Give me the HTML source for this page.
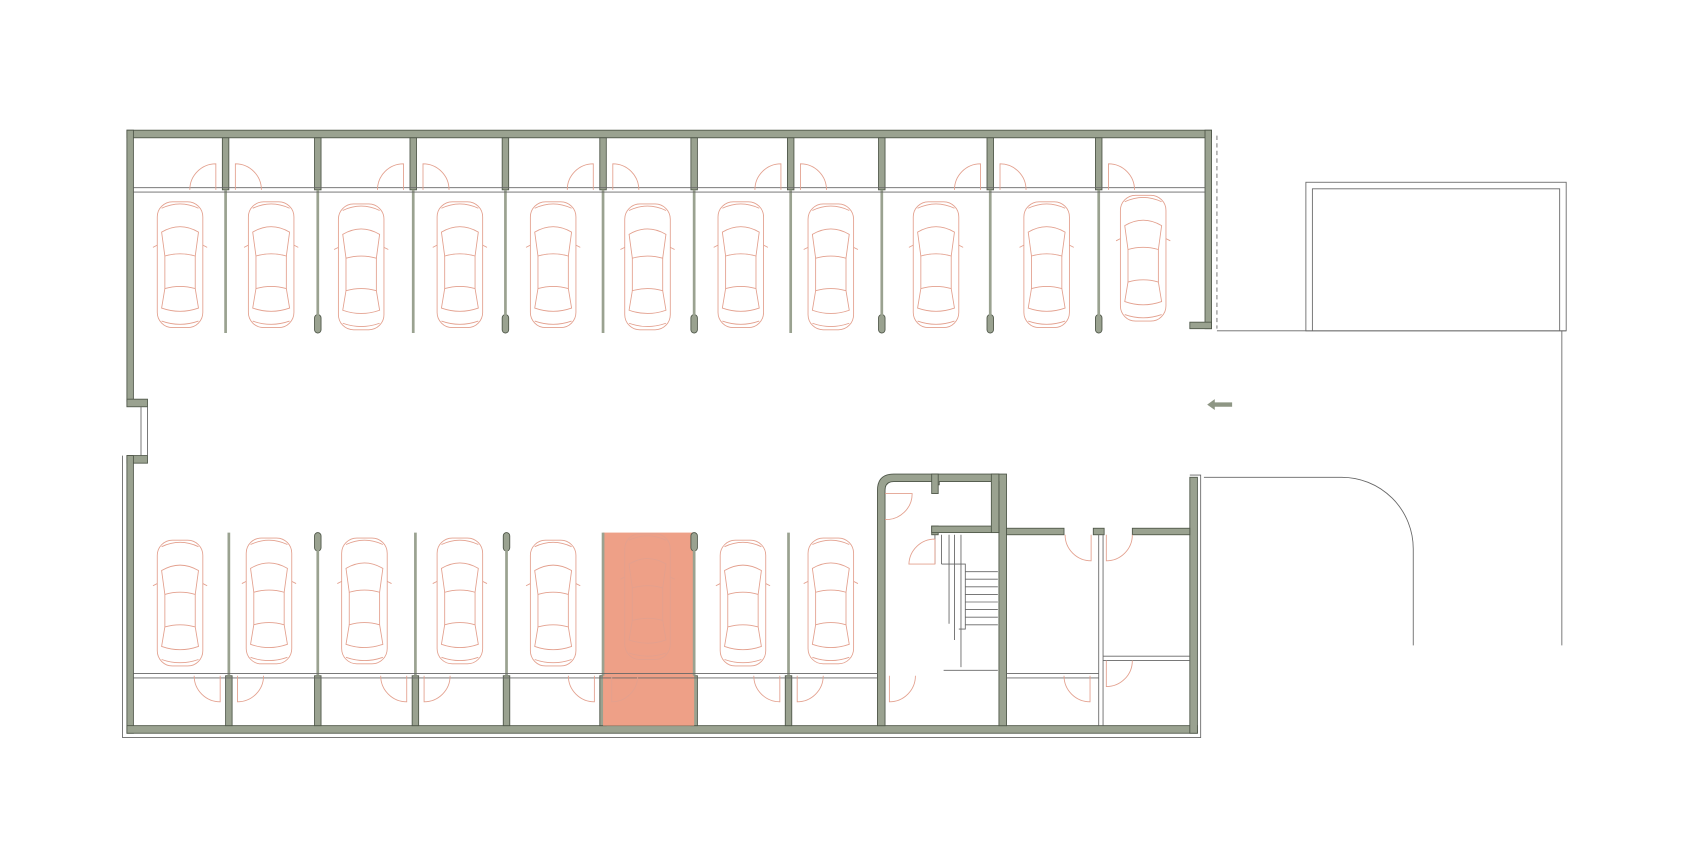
<!DOCTYPE html>
<html><head><meta charset="utf-8"><style>html,body{margin:0;padding:0;background:#fff}svg{display:block}</style></head>
<body>
<svg width="1692" height="863" viewBox="0 0 1560 795.6" xmlns="http://www.w3.org/2000/svg">
<defs>
<g id="car" fill="none" stroke="#e3a08e" stroke-width="0.8">
  <rect x="-21" y="-58" width="42" height="116" rx="14"/>
  <path d="M-17 -30 Q0 -40 17 -30 L14 -8 Q0 -12 -14 -8 Z"/>
  <path d="M-14 22 Q0 18 14 22 L17 40 Q0 46 -17 40 Z"/>
  <line x1="-14" y1="-8" x2="-14" y2="22"/><line x1="14" y1="-8" x2="14" y2="22"/>
  <path d="M-17 -52 Q0 -60 17 -52"/><path d="M-17 52 Q0 58 17 52"/>
  <line x1="-21" y1="-18" x2="-25" y2="-16"/><line x1="21" y1="-18" x2="25" y2="-16"/>
</g>
</defs>
<g fill="#9aa290" stroke="#4e5648" stroke-width="0.8">
  <!-- top wall -->
  <rect x="117" y="120" width="1000" height="7"/>
  <!-- left upper wall -->
  <rect x="117" y="120" width="6" height="250"/>
  <rect x="117" y="368" width="19" height="7"/>
  <rect x="117" y="420" width="19" height="7"/>
  <rect x="117" y="420" width="6" height="256"/>
  <!-- right garage wall -->
  <rect x="1111" y="120" width="6" height="183"/>
  <rect x="1097" y="297" width="20" height="6"/>
  <!-- bottom wall -->
  <rect x="117" y="669" width="987" height="7"/>
  <rect x="1097" y="440" width="7" height="236"/>
  <!-- top dividers thick -->
  <rect x="205" y="127" width="6" height="48"/>
  <rect x="290" y="127" width="6" height="48"/>
  <rect x="378" y="127" width="6" height="48"/>
  <rect x="463" y="127" width="6" height="48"/>
  <rect x="553" y="127" width="6" height="48"/>
  <rect x="637" y="127" width="6" height="48"/>
  <rect x="726" y="127" width="6" height="48"/>
  <rect x="810" y="127" width="6" height="48"/>
  <rect x="910" y="127" width="6" height="48"/>
  <rect x="1010" y="127" width="6" height="48"/>
  <!-- bottom dividers thick -->
  <rect x="208" y="623" width="6" height="46"/>
  <rect x="290" y="623" width="6" height="46"/>
  <rect x="380" y="623" width="6" height="46"/>
  <rect x="464" y="623" width="6" height="46"/>
  <rect x="553" y="623" width="6" height="46"/>
  <rect x="637" y="623" width="6" height="46"/>
  <rect x="724" y="623" width="6" height="46"/>
  <!-- pills top -->
  <rect x="290" y="290" width="6" height="17" rx="3"/>
  <rect x="463" y="290" width="6" height="17" rx="3"/>
  <rect x="637" y="290" width="6" height="17" rx="3"/>
  <rect x="810" y="290" width="6" height="17" rx="3"/>
  <rect x="910" y="290" width="6" height="17" rx="3"/>
  <rect x="1010" y="290" width="6" height="17" rx="3"/>
</g>
<!-- highlight -->
<rect x="556" y="491" width="84" height="178" fill="#eea087"/>
<g fill="#9aa290" stroke="#4e5648" stroke-width="0.8">
  <rect x="290" y="491" width="6" height="17" rx="3"/>
  <rect x="464" y="491" width="6" height="17" rx="3"/>
  <rect x="637" y="491" width="6" height="17" rx="3"/>
  <!-- stair block -->
  <path d="M809 669 V452 Q809 437 824 437 H928 V669 H921 V444 H866 V447 H863 V444 H824 Q816 444 816 452 V669 Z"/>
  <rect x="859" y="437" width="6" height="18"/>
  <rect x="859" y="485" width="6" height="8"/>
  <rect x="859" y="485" width="62" height="6"/>
  <rect x="914" y="437" width="7" height="54"/>
  <!-- right rooms top wall -->
  <rect x="928" y="487" width="53" height="6"/>
  <rect x="1008" y="487" width="10" height="6"/>
  <rect x="1044" y="487" width="53" height="6"/>
</g>
<g fill="none" stroke="#9aa290" stroke-width="2.5">
  <line x1="208" y1="175" x2="208" y2="307"/><line x1="381" y1="175" x2="381" y2="307"/>
  <line x1="556" y1="175" x2="556" y2="307"/><line x1="729" y1="175" x2="729" y2="307"/>
  <line x1="293" y1="175" x2="293" y2="295"/><line x1="466" y1="175" x2="466" y2="295"/>
  <line x1="640" y1="175" x2="640" y2="295"/><line x1="813" y1="175" x2="813" y2="295"/>
  <line x1="913" y1="175" x2="913" y2="295"/><line x1="1013" y1="175" x2="1013" y2="295"/>
  <line x1="211" y1="491" x2="211" y2="623"/><line x1="383" y1="491" x2="383" y2="623"/>
  <line x1="556" y1="491" x2="556" y2="623"/><line x1="727" y1="491" x2="727" y2="623"/>
  <line x1="293" y1="505" x2="293" y2="623"/><line x1="467" y1="505" x2="467" y2="623"/>
  <line x1="640" y1="505" x2="640" y2="623"/>
</g>
<g fill="none" stroke="#666" stroke-width="0.8">
  <!-- storage back lines -->
  <line x1="123" y1="173" x2="1111" y2="173"/><line x1="123" y1="177" x2="1111" y2="177"/>
  <line x1="123" y1="621" x2="809" y2="621"/><line x1="123" y1="625" x2="809" y2="625"/>
  <line x1="928" y1="621" x2="1013" y2="621"/><line x1="928" y1="625" x2="1013" y2="625"/>
  <line x1="1013" y1="493" x2="1013" y2="669"/><line x1="1017" y1="493" x2="1017" y2="669"/>
  <line x1="1017" y1="605" x2="1097" y2="605"/><line x1="1017" y1="609" x2="1097" y2="609"/>
  <!-- outer thin -->
  <path d="M113 420 V680 H1107 V438 H1097"/>
  <path d="M130 375 V420 M136 375 V420"/>
  <line x1="1122" y1="125" x2="1122" y2="303" stroke-dasharray="4 3"/>
  <!-- right exterior -->
  <rect x="1204" y="168" width="240" height="137"/>
  <path d="M1210 305 V174 H1438 V305"/>
  <line x1="1122" y1="305" x2="1444" y2="305"/>
  <line x1="1440" y1="305" x2="1440" y2="595"/>
  <path d="M1110 440 H1237 A66 66 0 0 1 1303 506 V595"/>
  <!-- stairs -->
  <path d="M862 493 V520 M868 493 V520 M875 493 V575 M880 493 V590 M886 493 V615 M868 520 H890 V580 H884"/>
  <path d="M890 527 H920 M890 534 H920 M890 541 H920 M890 548 H920 M890 555 H920 M890 562 H920 M890 569 H920 M890 576 H920"/>
  <line x1="870" y1="618" x2="920" y2="618"/>
</g>
<!-- doors -->
<g fill="none" stroke="#e3a08e" stroke-width="0.8">
  <!-- top row -->
  <path d="M199 175 V151 A24 24 0 0 0 175 175"/><path d="M217 175 V151 A24 24 0 0 1 241 175"/>
  <path d="M372 175 V151 A24 24 0 0 0 348 175"/><path d="M390 175 V151 A24 24 0 0 1 414 175"/>
  <path d="M547 175 V151 A24 24 0 0 0 523 175"/><path d="M565 175 V151 A24 24 0 0 1 589 175"/>
  <path d="M720 175 V151 A24 24 0 0 0 696 175"/><path d="M738 175 V151 A24 24 0 0 1 762 175"/>
  <path d="M904 175 V151 A24 24 0 0 0 880 175"/><path d="M922 175 V151 A24 24 0 0 1 946 175"/>
  <path d="M1022 175 V151 A24 24 0 0 1 1046 175"/>
  <!-- bottom row -->
  <path d="M203 623 V647 A24 24 0 0 1 179 623"/><path d="M219 623 V647 A24 24 0 0 0 243 623"/>
  <path d="M375 623 V647 A24 24 0 0 1 351 623"/><path d="M391 623 V647 A24 24 0 0 0 415 623"/>
  <path d="M548 623 V647 A24 24 0 0 1 524 623"/><path d="M564 623 V647 A24 24 0 0 0 588 623"/>
  <path d="M719 623 V647 A24 24 0 0 1 695 623"/><path d="M735 623 V647 A24 24 0 0 0 759 623"/>
  <path d="M820 623 V647 A24 24 0 0 0 844 623"/>
  <path d="M1005 623 V647 A24 24 0 0 1 981 623"/>
  <path d="M1020 609 V633 A24 24 0 0 0 1044 609"/>
  <path d="M1006 493 V517 A24 24 0 0 1 982 493"/><path d="M1020 493 V517 A24 24 0 0 0 1044 493"/>
  <path d="M816 455 H841 A24 24 0 0 1 816 479"/>
  <path d="M862 497 V520 H838 A24 24 0 0 1 862 497"/>
</g>
<!-- arrow -->
<path d="M1113 373 L1120 368 V371 H1136 V375 H1120 V378 Z" fill="#8e9684"/>
<!-- cars -->
<use href="#car" x="166" y="244"/><use href="#car" x="250" y="244"/><use href="#car" x="333" y="246"/>
<use href="#car" x="424" y="244"/><use href="#car" x="510" y="244"/><use href="#car" x="597" y="246"/>
<use href="#car" x="683" y="244"/><use href="#car" x="766" y="246"/><use href="#car" x="863" y="244"/>
<use href="#car" x="965" y="244"/><use href="#car" x="1054" y="238"/>
<use href="#car" x="166" y="556"/><use href="#car" x="248" y="554"/><use href="#car" x="336" y="554"/>
<use href="#car" x="424" y="554"/><use href="#car" x="510" y="556"/><use href="#car" x="597" y="550"/>
<use href="#car" x="685" y="556"/><use href="#car" x="766" y="554"/>
</svg>
</body></html>
